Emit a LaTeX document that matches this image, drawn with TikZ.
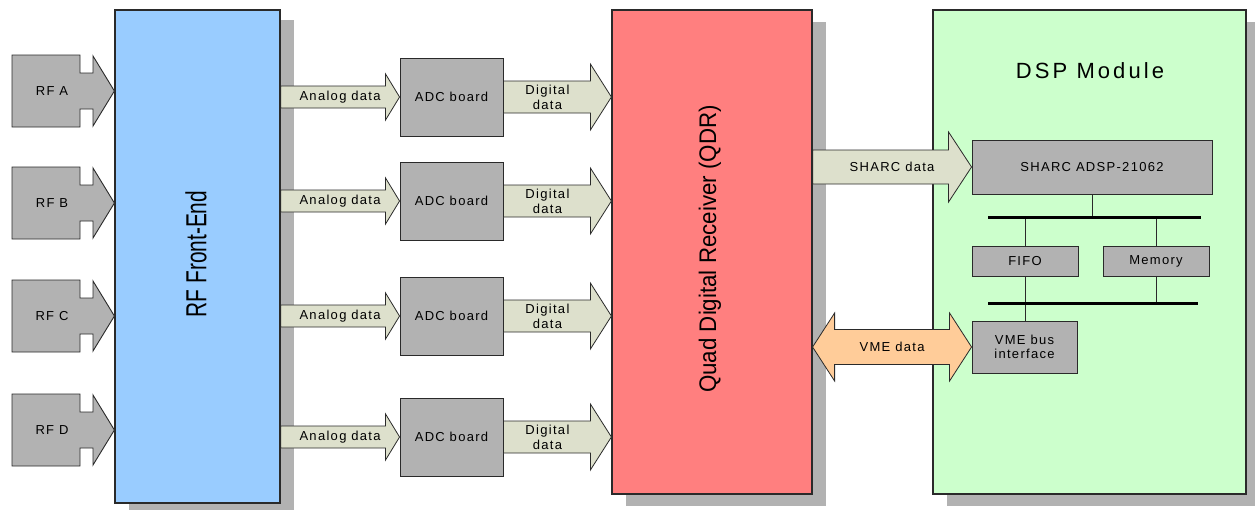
\documentclass[tikz,border=0pt]{standalone}
\usepackage{fontspec}
\setmainfont{Liberation Sans}
\newfontfamily\lblfont[LetterSpace=10]{Liberation Sans}
\newfontfamily\headfont[LetterSpace=14]{Liberation Sans}
\usetikzlibrary{calc,shadows}

\definecolor{frontblue}{HTML}{99CCFF}
\definecolor{qdrred}{HTML}{FF7F7F}
\definecolor{dspgreen}{HTML}{CCFFCC}
\definecolor{boardgray}{HTML}{B2B2B2}
\definecolor{shadowgray}{HTML}{B2B2B2}
\definecolor{dataflow}{RGB}{221,224,204}
\definecolor{vmeorange}{HTML}{FFCC99}
\definecolor{edge}{HTML}{2A2A2A}

\tikzset{
  unit/.style={draw=edge, line width=1.2pt, inner sep=0pt},
  unitshadow/.style={drop shadow={shadow xshift=14pt, shadow yshift=#1, fill=shadowgray, opacity=1}},
  board/.style={draw=edge, line width=0.9pt, fill=boardgray, inner sep=0pt,
    align=center, font={\lblfont\fontsize{13}{14}\selectfont}},
  lbl/.style={inner sep=0pt, align=center, font={\lblfont\fontsize{13}{15}\selectfont}},
  flow/.style={draw=edge, line width=0.8pt, fill=dataflow, line join=miter},
  vmeflow/.style={draw=edge, line width=0.8pt, fill=vmeorange, line join=miter},
  srcshape/.style={draw=edge, line width=0.9pt, fill=boardgray, line join=miter},
  bus/.style={line width=3pt, black},
  link/.style={draw=edge, line width=1pt},
}

% horizontal block arrow: style, tail point, tip point, shaft half-width, head half-width, head length
\newcommand\blockarrow[6]{%
  \draw[#1] let \p1=(#2), \p2=(#3) in
    (\x1,{\y2+#4pt}) -- ({\x2-#6pt},{\y2+#4pt}) -- ({\x2-#6pt},{\y2+#5pt}) -- (\x2,\y2)
    -- ({\x2-#6pt},{\y2-#5pt}) -- ({\x2-#6pt},{\y2-#4pt}) -- (\x1,{\y2-#4pt}) -- cycle;}

% horizontal two-headed block arrow, same arguments
\newcommand\twowayarrow[6]{%
  \draw[#1] let \p1=(#2), \p2=(#3) in
    (\x1,\y2) -- ({\x1+#6pt},{\y2+#5pt}) -- ({\x1+#6pt},{\y2+#4pt}) -- ({\x2-#6pt},{\y2+#4pt})
    -- ({\x2-#6pt},{\y2+#5pt}) -- (\x2,\y2) -- ({\x2-#6pt},{\y2-#5pt}) -- ({\x2-#6pt},{\y2-#4pt})
    -- ({\x1+#6pt},{\y2-#4pt}) -- ({\x1+#6pt},{\y2-#5pt}) -- cycle;}

% RF input source: name, centre y, label
\newcommand\rfsource[3]{%
  \coordinate (#1-c) at (52,#2);
  \draw[srcshape] ($(#1-c)+(-40,-36)$) -- ++(68,0) -- ++(0,18) -- ++(13,0) -- ++(0,-17)
    -- (rffe.west |- #1-c) -- ($(#1-c)+(41,35)$) -- ++(0,-17) -- ++(-13,0) -- ++(0,18)
    -- ++(-68,0) -- cycle;
  \node[lbl] (#1) at (#1-c) {#3};}

\begin{document}
\begin{tikzpicture}[x=1pt,y=-1pt]
\useasboundingbox (0,0) rectangle (1255,509);

% main units
\node[unit, unitshadow=-10pt, fill=frontblue, minimum width=165pt, minimum height=493pt] (rffe) at (197.5,256.5) {};
\node[unit, unitshadow=-12pt, fill=qdrred, minimum width=200pt, minimum height=484pt] (qdr) at (712,252) {};
\node[unit, unitshadow=-12pt, fill=dspgreen, minimum width=313pt, minimum height=484pt] (dsp) at (1089.5,252) {};

\node[rotate=90, inner sep=0pt, font=\fontsize{29}{32}\selectfont] (rffe-title) at (196,254)
  {\scalebox{0.72}[1]{RF Front-End}};
\node[rotate=90, inner sep=0pt, font=\fontsize{24}{28}\selectfont] (qdr-title) at (710,249)
  {\scalebox{0.93}[1]{Quad Digital Receiver (QDR)}};
\node[inner sep=0pt, font={\headfont\fontsize{22}{25}\selectfont}] (dsp-title) at (1090,71) {DSP Module};

% RF inputs
\rfsource{rfa}{91}{RF A}
\rfsource{rfb}{203}{RF B}
\rfsource{rfc}{316}{RF C}
\rfsource{rfd}{430}{RF D}

% ADC boards
\foreach \i/\y in {1/97, 2/201, 3/316, 4/437} {
  \node[board, minimum width=103pt, minimum height=78pt] (adc\i) at (451.5,\y) {ADC board};
  \blockarrow{flow}{rffe.east |- adc\i}{adc\i.west}{11}{23}{14}
  \node[lbl] (analog\i) at ($(rffe.east |- adc\i)!0.5!(adc\i.west)$) {Analog data};
  \blockarrow{flow}{adc\i.east}{qdr.west |- adc\i}{16}{33}{21}
  \node[lbl] (digital\i) at ($(adc\i.east)+(44,0)$) {Digital\\data};
}

% DSP module internals
\node[board, minimum width=240pt, minimum height=54pt] (sharc) at (1092,167) {SHARC ADSP-21062};
\node[board, minimum width=106pt, minimum height=30pt] (fifo) at (1025,261) {FIFO};
\node[board, minimum width=106pt, minimum height=30pt] (memory) at (1156,261) {Memory};
\node[board, minimum width=105pt, minimum height=52pt] (vme) at (1024.5,347) {VME bus\\interface};

\coordinate (bus1w) at (988,217);
\coordinate (bus1e) at (1201,217);
\coordinate (bus2w) at (988,303);
\coordinate (bus2e) at (1198,303);
\draw[link] (sharc.south) -- (sharc.south |- bus1w);
\draw[link] (fifo.north) -- (fifo.north |- bus1w);
\draw[link] (memory.north) -- (memory.north |- bus1w);
\draw[link] (fifo.south) -- (fifo.south |- vme.north);
\draw[link] (memory.south) -- (memory.south |- bus2w);
\draw[bus] (bus1w) -- (bus1e);
\draw[bus] (bus2w) -- (bus2e);

% data paths from the receiver into the DSP module
\blockarrow{flow}{qdr.east |- sharc}{sharc.west}{17}{35}{23}
\node[lbl] (sharc-data) at ($(qdr.east |- sharc)!0.5!(sharc.west)$) {SHARC data};
\twowayarrow{vmeflow}{qdr.east |- vme}{vme.west}{17.5}{34}{22}
\node[lbl] (vme-data) at ($(qdr.east |- vme)!0.5!(vme.west)$) {VME data};
\end{tikzpicture}
\end{document}
